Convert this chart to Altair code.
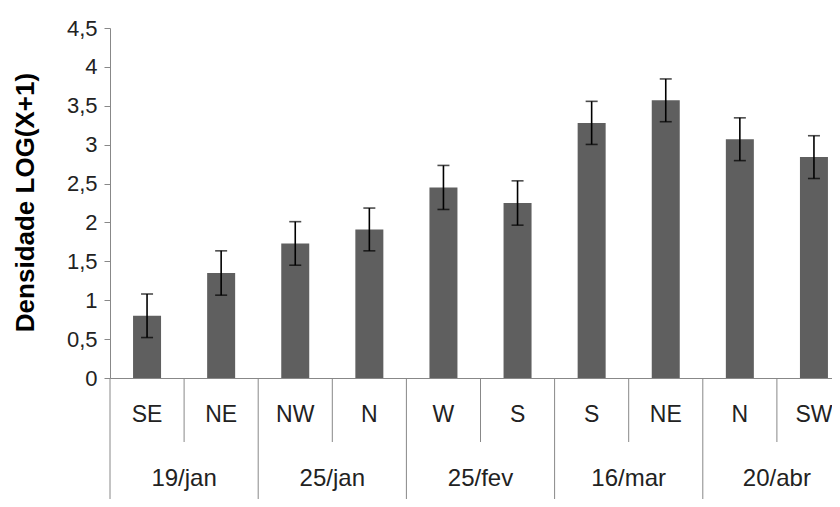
import altair as alt
import pandas as pd

dates = ["19/jan", "19/jan", "25/jan", "25/jan", "25/fev", "25/fev",
         "16/mar", "16/mar", "20/abr", "20/abr"]
directions = ["SE", "NE", "NW", "N", "W", "S", "S", "NE", "N", "SW"]
density = [0.80, 1.35, 1.73, 1.91, 2.45, 2.25, 3.28, 3.57, 3.07, 2.84]
error = [0.28, 0.285, 0.28, 0.275, 0.283, 0.285, 0.277, 0.275, 0.275, 0.275]
y_ticks = [0, 0.5, 1, 1.5, 2, 2.5, 3, 3.5, 4, 4.5]

df = pd.DataFrame({"date": dates, "dir": directions,
                   "density": density, "error": error})
df["key"] = df["date"] + " " + df["dir"]
df["lo"] = df["density"] - df["error"]
df["hi"] = df["density"] + df["error"]
df["first"] = ~df["date"].duplicated()
keys = list(df["key"])

FONT = "Liberation Sans"
GRAY = "#888888"
TXT = "#222222"
TITLE = "Densidade LOG(X+1)"

x_scale = alt.Scale(domain=keys, range=[0, 741], paddingInner=0, paddingOuter=0)
y_scale = alt.Scale(domain=[0, 4.5], nice=False)

x_axis = alt.Axis(labels=False, ticks=False, grid=False, domainColor=GRAY,
                  domainWidth=1, title=None)
y_axis = alt.Axis(values=y_ticks,
                  labelExpr="replace(toString(datum.value), '.', ',')",
                  grid=False, domainColor=GRAY, tickColor=GRAY, tickSize=6,
                  labelPadding=7, labelFont=FONT, labelFontSize=22,
                  labelColor=TXT, title=TITLE, titleFont=FONT,
                  titleFontSize=26, titleFontWeight="bold", titleColor="#000000",
                  titleX=-85, titleY=174, titleAngle=270, titleAlign="center",
                  titleBaseline="middle")


def X(**kw):
    return alt.X("key:N", scale=x_scale, axis=x_axis, sort=keys, title=None, **kw)


def Y(field):
    return alt.Y(field, scale=y_scale, axis=y_axis, title=TITLE)


base = alt.Chart(df)

bars = base.mark_bar(size=28, color="#5f5f5f").encode(
    x=X(), y=Y("density:Q"),
)

stems = base.mark_rule(color="#000000", strokeWidth=1.6).encode(
    x=X(), y=Y("lo:Q"), y2="hi:Q",
)
cap_hi = base.mark_tick(orient="horizontal", size=12, thickness=1.6,
                        color="#000000").encode(x=X(), y=Y("hi:Q"))
cap_lo = base.mark_tick(orient="horizontal", size=12, thickness=1.6,
                        color="#000000").encode(x=X(), y=Y("lo:Q"))

inner_sep = base.transform_filter("!datum.first").mark_rule(
    color=GRAY, strokeWidth=1).encode(
    x=X(bandPosition=0), y=alt.value(350), y2=alt.value(414),
)
group_sep = base.transform_filter("datum.first").mark_rule(
    color=GRAY, strokeWidth=1).encode(
    x=X(bandPosition=0), y=alt.value(350), y2=alt.value(480),
)

dir_text = base.mark_text(font=FONT, fontSize=23, color=TXT,
                          baseline="middle").encode(
    x=X(), y=alt.value(387), text="dir:N",
)
date_text = base.transform_filter("datum.first").mark_text(
    font=FONT, fontSize=24, color=TXT, baseline="middle").encode(
    x=X(bandPosition=1), y=alt.value(451), text="date:N",
)

chart = alt.layer(bars, stems, cap_hi, cap_lo, inner_sep, group_sep,
                  dir_text, date_text).properties(
    width=722, height=350,
    autosize=alt.AutoSizeParams(type="none"),
    padding={"left": 102, "top": 20, "right": 0, "bottom": 121},
    background="#ffffff",
).configure_view(stroke=None)

chart.save("out.html", embed_options={"renderer": "svg", "actions": False})
